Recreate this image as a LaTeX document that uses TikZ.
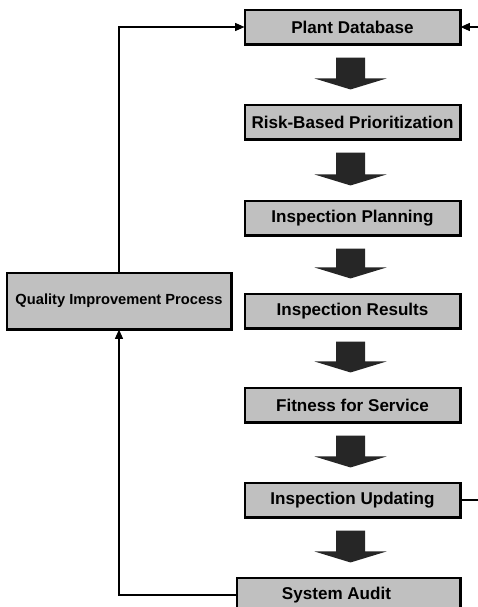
\documentclass[tikz,border=0pt]{standalone}
\usepackage{fontspec}
\setmainfont{Liberation Sans}
\usetikzlibrary{calc,arrows.meta}
\definecolor{boxgray}{RGB}{192,192,192}
\definecolor{arrowdark}{RGB}{38,38,38}
\begin{document}
\begin{tikzpicture}[x=0.75pt,y=-0.75pt,
  stepbox/.style={draw=black, line width=0.8pt, fill=boxgray, minimum width=161.25pt,
    minimum height=25.5pt, inner sep=0pt, font=\fontsize{12.8}{14}\selectfont\bfseries},
  qipbox/.style={stepbox, minimum width=168pt, minimum height=42pt,
    font=\fontsize{11}{13}\selectfont\bfseries},
  link/.style={draw=black, line width=0.8pt, -{Triangle[length=7pt,width=6pt]}},
  bigarrow/.style={fill=arrowdark},
  shadowline/.style={line width=1.8pt, line cap=rect}]
\useasboundingbox (0,0) rectangle (478,607);

\node[stepbox] (pd)    at (352.5,27)  {Plant Database};
\node[stepbox] (risk)  at (352.5,122) {Risk-Based Prioritization};
\node[stepbox] (plan)  at (352.5,218) {Inspection Planning};
\node[stepbox] (res)   at (352.5,311) {Inspection Results};
\node[stepbox] (fit)   at (352.5,405) {Fitness for Service};
\node[stepbox] (upd)   at (352.5,500) {Inspection Updating};
\node[stepbox, minimum width=167.25pt] (audit) at (348.5,595) {\hspace*{-18pt}System Audit};
\node[qipbox]  (qip)   at (119,301)   {Quality Improvement Process};

\foreach \n in {pd,risk,plan,res,fit,upd,audit,qip}{
  \draw[shadowline] ($(\n.south west)+(1,0)$) -- (\n.south east) -- ($(\n.north east)+(0,1)$);
}

\foreach \a/\b in {pd/risk,risk/plan,plan/res,res/fit,fit/upd,upd/audit}{
  \coordinate (t) at ($(\a.south)+(-2,13)$);
  \coordinate (tip) at ($(t |- \b.north)+(0,-15)$);
  \fill[bigarrow] ($(t)+(-14.5,0)$) -- ($(t)+(14.5,0)$) -- ($(tip)+(14.5,-11)$)
    -- ($(tip)+(36,-11)$) -- (tip) -- ($(tip)+(-36,-11)$) -- ($(tip)+(-14.5,-11)$) -- cycle;
}

\draw[link] (qip.north) |- (pd.west);
\draw[link] (audit.west) -| (qip.south);
\draw[link] (upd.east) -- ++(30,0) |- (pd.east);
\end{tikzpicture}
\end{document}
